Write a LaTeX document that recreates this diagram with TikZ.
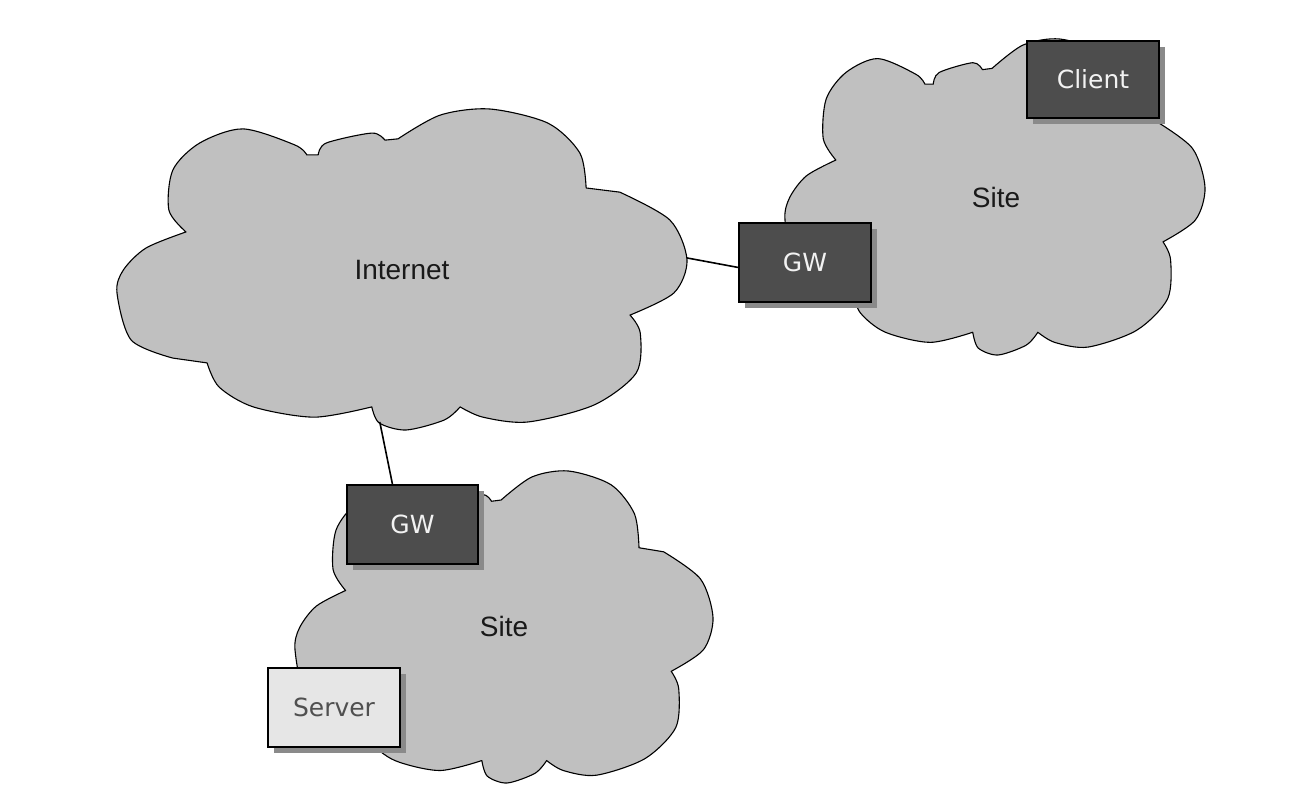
\documentclass[tikz,border=0pt]{standalone}
\usepackage{fontspec}
\setmainfont{Liberation Sans}
\newfontfamily\boxfont{DejaVu Sans}
\usetikzlibrary{shadows,calc}
\definecolor{cloudgray}{HTML}{C0C0C0}
\definecolor{darkbox}{HTML}{4D4D4D}
\definecolor{lightbox}{HTML}{E6E6E6}
\definecolor{shadowgray}{HTML}{8A8A8A}
\definecolor{lighttext}{HTML}{F2F2F2}
\definecolor{servertext}{HTML}{505050}
\tikzset{
  cloudline/.style={draw=black,line width=1.1pt,fill=cloudgray,line join=round},
  cloudlabel/.style={font=\fontsize{28}{33}\selectfont,text=black!90},
  link/.style={draw=black,line width=1.6pt},
  boxbase/.style={draw=black,line width=1.2pt,minimum width=132pt,minimum height=79pt,
    inner sep=0pt,font=\boxfont\fontsize{25}{30}\selectfont,
    drop shadow={shadow xshift=6pt,shadow yshift=-6pt,fill=shadowgray,opacity=1}},
  darkdev/.style={boxbase,fill=darkbox,text=lighttext},
  lightdev/.style={boxbase,fill=lightbox,text=servertext}
}
\newcommand\cloudat[5]{%
  \begin{scope}[shift={(#1,#2)},xscale=#3,yscale=#4]
    \draw[cloudline]
      plot[smooth] coordinates{(0.121,0.383)(0.091,0.315)(0.098,0.190)(0.145,0.106)(0.221,0.062)(0.312,0.112)(0.333,0.143)}
      -- plot[smooth] coordinates{(0.353,0.143)(0.367,0.106)(0.447,0.075)(0.470,0.097)}
      -- plot[smooth] coordinates{(0.493,0.093)(0.567,0.019)(0.654,0)(0.756,0.044)(0.812,0.137)(0.823,0.246)}
      -- plot[smooth] coordinates{(0.882,0.259)(0.970,0.346)(1.0,0.470)(0.977,0.573)(0.900,0.642)}
      -- plot[smooth] coordinates{(0.900,0.642)(0.918,0.698)(0.911,0.822)(0.837,0.922)(0.721,0.975)(0.642,0.960)(0.602,0.928)}
      -- plot[smooth] coordinates{(0.602,0.928)(0.574,0.969)(0.507,1.0)(0.460,0.978)(0.447,0.928)}
      -- plot[smooth] coordinates{(0.447,0.928)(0.346,0.960)(0.239,0.928)(0.179,0.866)(0.158,0.791)}
      -- plot[smooth] coordinates{(0.098,0.776)(0.025,0.720)(0.0,0.573)(0.011,0.502)(0.051,0.433)(0.121,0.383)}
      -- cycle;
    \coordinate (#5-r) at (1,0.464);
    \coordinate (#5-b) at (0.461,0.975);
  \end{scope}}
\begin{document}
\begin{tikzpicture}[x=1pt,y=-1pt]
  \fill[white] (0,0) rectangle (1306,810);
  \useasboundingbox (0,0) rectangle (1306,810);
  % clouds
  \cloudat{117}{109}{570}{321}{inet}
  \cloudat{785}{39}{420}{316}{siteA}
  \cloudat{295}{471}{418}{312}{siteB}
  \node[cloudlabel] (inetlabel) at (402,270) {Internet};
  \node[cloudlabel] (siteAlabel) at (996,197) {Site};
  \node[cloudlabel] (siteBlabel) at (504,626) {Site};
  % devices
  \node[darkdev] (gw1) at (805,262.5) {GW};
  \node[darkdev,minimum height=77pt] (client) at (1093,79.5) {Client};
  \node[darkdev,minimum width=131pt] (gw2) at (412.5,524.5) {GW};
  \node[lightdev] (server) at (334,707.5) {Server};
  % links
  \draw[link] (inet-r) -- ($(gw1.west)+(0,5)$);
  \draw[link] (inet-b) -- ($(gw2.north)+(-20,0)$);
\end{tikzpicture}
\end{document}
